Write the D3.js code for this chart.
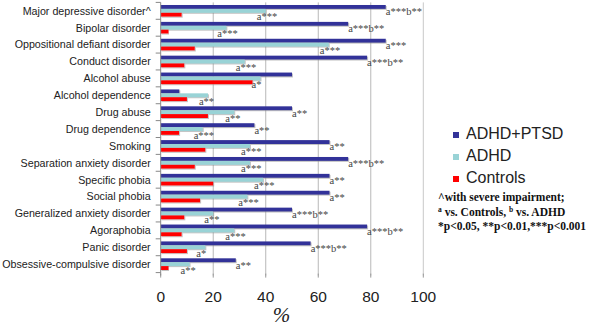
<!DOCTYPE html>
<html>
<head>
<meta charset="utf-8">
<script src="https://cdn.jsdelivr.net/npm/d3@7"></script>
<style>
  body { margin: 0; background: #fff; }
</style>
</head>
<body>
<svg id="chart" width="603" height="326"></svg>
<script>
// categories, top to bottom
const categories = [
  "Major depressive disorder^", "Bipolar disorder", "Oppositional defiant disorder",
  "Conduct disorder", "Alcohol abuse", "Alcohol dependence", "Drug abuse",
  "Drug dependence", "Smoking", "Separation anxiety disorder", "Specific phobia",
  "Social phobia", "Generalized anxiety disorder", "Agoraphobia", "Panic disorder",
  "Obsessive-compulsive disorder"
];
const seriesNames = ["ADHD+PTSD", "ADHD", "Controls"];
const ptsdVals = [85.7, 71.4, 85.7, 78.6, 50, 7.1, 50, 35.7, 64.3, 71.4, 64.3, 64.3, 50, 78.6, 57.1, 28.6];
const adhdVals = [40, 25, 64, 32, 38, 18, 28, 16, 34, 34, 39, 33, 20, 28, 17, 11];
const controlVals = [8, 3, 13, 9, 35, 10, 18, 7, 17, 13, 20, 15, 9, 8, 10, 3];
// significance marks
const ptsdSig = ["a***b**", "a***b**", "a***", "a***b**", "", "", "a**", "a**", "a**", "a***b**", "a**", "a**", "a***b**", "a***b**", "a***b**", "a**"];
const adhdSig = ["a***", "a***", "a***", "a***", "a*", "a**", "a**", "a***", "a***", "a***", "a***", "a***", "a**", "a***", "a*", "a**"];
const xTicks = [0, 20, 40, 60, 80, 100];

const colors = ["#333399", "#99D3D6", "#FF0000"];

const svg = d3.select("#chart");
const plotL = 160.7, plotR = 423.3, plotT = 2.4, plotB = 272.6;

const defs = svg.append("defs");
defs.append("filter").attr("id", "shadow")
  .attr("x", "-5%").attr("y", "-30%").attr("width", "110%").attr("height", "180%")
  .append("feDropShadow")
  .attr("dx", 1).attr("dy", 1).attr("stdDeviation", 0.6)
  .attr("flood-color", "#888").attr("flood-opacity", 0.5);

const x = d3.scaleLinear().domain([0, 100]).range([plotL, plotR]);
const y = d3.scaleBand().domain(categories).range([plotT, plotB])
  .paddingInner(0.307).paddingOuter(0.1535);
const ys = d3.scaleBand().domain(seriesNames).range([0, y.bandwidth()]);

// grid lines
svg.append("g")
  .selectAll("line")
  .data(xTicks.slice(1))
  .enter().append("line")
  .attr("x1", d => x(d)).attr("x2", d => x(d))
  .attr("y1", plotT).attr("y2", plotB + 3)
  .attr("stroke", d => d === 100 ? "#c8c8c8" : "#b8b8b8")
  .attr("stroke-width", 1);

// bottom ticks
svg.append("g")
  .selectAll("line")
  .data(xTicks)
  .enter().append("line")
  .attr("x1", d => x(d)).attr("x2", d => x(d))
  .attr("y1", plotB + 1).attr("y2", plotB + 5)
  .attr("stroke", "#999");

// bars
const rows = categories.map((c, i) => ({
  cat: c,
  vals: [ptsdVals[i], adhdVals[i], controlVals[i]],
  sig: [ptsdSig[i], adhdSig[i]]
}));

const groups = svg.append("g").selectAll("g")
  .data(rows)
  .enter().append("g")
  .attr("transform", d => `translate(0,${y(d.cat)})`);

groups.selectAll("rect")
  .data(d => d.vals.map((v, k) => ({ v: v, k: k })))
  .enter().append("rect")
  .attr("x", x(0))
  .attr("y", d => ys(seriesNames[d.k]))
  .attr("width", d => x(d.v) - x(0))
  .attr("height", ys.bandwidth())
  .attr("fill", d => colors[d.k])
  .attr("filter", "url(#shadow)");

// left axis line + category ticks
svg.append("line")
  .attr("x1", plotL).attr("x2", plotL)
  .attr("y1", plotT).attr("y2", plotB + 3)
  .attr("stroke", "#888");

svg.append("g")
  .selectAll("line")
  .data(d3.range(categories.length + 1))
  .enter().append("line")
  .attr("x1", plotL - 5).attr("x2", plotL)
  .attr("y1", i => plotT + i * y.step()).attr("y2", i => plotT + i * y.step())
  .attr("stroke", "#888");

// category labels
svg.append("g")
  .selectAll("text")
  .data(categories)
  .enter().append("text")
  .attr("x", 150.7)
  .attr("y", d => y(d) + y.bandwidth() / 2 + 3.8)
  .attr("text-anchor", "end")
  .style("font-family", "Arial, 'Liberation Sans', sans-serif")
  .style("font-size", "10.7px")
  .style("fill", "#222")
  .text(d => d);

// significance labels
const sigFont = "'Times New Roman', 'Liberation Serif', serif";
groups.append("text")
  .attr("x", d => x(d.vals[0]))
  .attr("y", ys("ADHD+PTSD") + ys.bandwidth() + 6.5)
  .style("font-family", sigFont)
  .style("font-size", "10.5px")
  .style("fill", "#444")
  .text(d => d.sig[0]);

groups.append("text")
  .attr("x", d => x(d.vals[1]) - 9)
  .attr("y", ys("ADHD") + ys.bandwidth() + 7.5)
  .style("font-family", sigFont)
  .style("font-size", "10.5px")
  .style("fill", "#444")
  .text(d => d.sig[1]);

// x tick labels
svg.append("g")
  .selectAll("text")
  .data(xTicks)
  .enter().append("text")
  .attr("x", d => x(d))
  .attr("y", 302)
  .attr("text-anchor", "middle")
  .style("font-family", "Arial, 'Liberation Sans', sans-serif")
  .style("font-size", "15.5px")
  .style("fill", "#222")
  .text(d => d);

// axis title
svg.append("text")
  .attr("x", 281.5)
  .attr("y", 322)
  .attr("text-anchor", "middle")
  .style("font-family", sigFont)
  .style("font-style", "italic")
  .style("font-size", "21px")
  .style("fill", "#222")
  .text("%");

// legend
const legend = svg.append("g").selectAll("g")
  .data(seriesNames)
  .enter().append("g")
  .attr("transform", (d, i) => `translate(453,${133 + i * 22})`);

legend.append("rect")
  .attr("x", 0).attr("y", -1)
  .attr("width", 6).attr("height", 6)
  .attr("fill", (d, i) => colors[i]);

legend.append("text")
  .attr("x", 13).attr("y", 6)
  .style("font-family", "Arial, 'Liberation Sans', sans-serif")
  .style("font-size", "16px")
  .style("fill", "#222")
  .text(d => d);

// notes
const notes = svg.append("g")
  .style("font-family", sigFont)
  .style("font-weight", "bold")
  .style("font-size", "11.5px")
  .style("fill", "#111");

notes.append("text").attr("x", 438).attr("y", 201).text("^with severe impairment;");

const n2 = notes.append("text").attr("x", 438).attr("y", 216);
n2.append("tspan").attr("dy", -4).style("font-size", "7.5px").text("a");
n2.append("tspan").attr("dy", 4).text(" vs. Controls, ");
n2.append("tspan").attr("dy", -4).style("font-size", "7.5px").text("b");
n2.append("tspan").attr("dy", 4).text(" vs. ADHD");

notes.append("text").attr("x", 438).attr("y", 230).text("*p<0.05, **p<0.01,***p<0.001");
</script>
</body>
</html>
